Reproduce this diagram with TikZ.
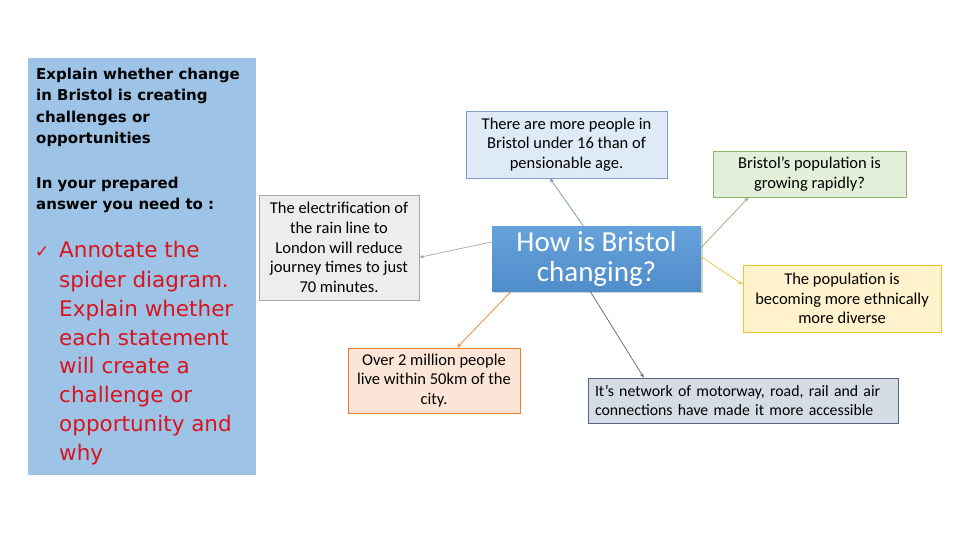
\documentclass[tikz,border=0pt]{standalone}
\usepackage{fontspec}
\setmainfont{Carlito}
\newfontfamily\comic{DejaVu Sans}
\usetikzlibrary{arrows.meta,shadows}
\definecolor{panel}{HTML}{9DC3E6}
\definecolor{redtxt}{HTML}{D8141E}
\definecolor{bluefill}{HTML}{DEEBF7}
\definecolor{blueline}{HTML}{7F9FC7}
\definecolor{greenfill}{HTML}{E2F0D9}
\definecolor{greenline}{HTML}{8CB26E}
\definecolor{grayfill}{HTML}{EDEDED}
\definecolor{grayline}{HTML}{A6A6A6}
\definecolor{yelfill}{HTML}{FFF2CC}
\definecolor{yelline}{HTML}{F0C630}
\definecolor{orfill}{HTML}{FBE5D6}
\definecolor{orline}{HTML}{ED7D31}
\definecolor{slfill}{HTML}{D6DCE5}
\definecolor{slline}{HTML}{56667C}
\definecolor{ctop}{HTML}{66A2DA}
\definecolor{cbot}{HTML}{4F8DCB}
\begin{document}
\begin{tikzpicture}[x=1pt,y=-1pt,
  box/.style={draw, line width=0.8pt, inner sep=0pt, align=center,
    font=\fontsize{16.5}{19.7}\selectfont},
  blk/.style={anchor=base west, inner sep=0pt, font=\comic\bfseries\fontsize{15}{18}\selectfont},
  red/.style={anchor=base west, inner sep=0pt, text=redtxt, font=\comic\fontsize{21.5}{24}\selectfont},
  conn/.style={line width=0.7pt, -{Stealth[length=4.5pt,width=3.5pt]}}]
\useasboundingbox (0,0) rectangle (960,540);
\fill[white] (0,0) rectangle (960,540);
% left panel
\fill[panel] (28,58) rectangle (256,475);
\foreach \t/\y [count=\i] in {Explain whether change/80, in Bristol is creating/101, challenges or/123, opportunities/144, In your prepared/188, answer you need to :/209}
  \node[blk] (b\i) at (36,\y) {\t};
\node[anchor=base west, inner sep=0pt, text=redtxt, font=\comic\fontsize{17}{18}\selectfont] (chk) at (35,257) {✓};
\foreach \t/\y [count=\i] in {Annotate the/257, spider diagram./287, Explain whether/316, each statement/345, will create a/373, challenge or/402, opportunity and/431, why/460}
  \node[red] (r\i) at (59,\y) {\t};
% boxes
\node[box, fill=bluefill, draw=blueline, minimum width=201, minimum height=67] (top) at (566.5,144.5)
  {There are more people in\\Bristol under 16 than of\\pensionable age.};
\node[box, fill=greenfill, draw=greenline, minimum width=193, minimum height=46] (grn) at (809.5,174)
  {Bristol’s population is\\growing rapidly?};
\node[box, fill=grayfill, draw=grayline, minimum width=160, minimum height=105] (gry) at (339,247.5)
  {The electrification of\\the rain line to\\London will reduce\\journey times to just\\70 minutes.};
\node[box, fill=yelfill, draw=yelline, minimum width=198, minimum height=67] (yel) at (842,298.5)
  {The population is\\becoming more ethnically\\more diverse};
\node[box, fill=orfill, draw=orline, minimum width=172, minimum height=65] (org) at (434,380.5)
  {Over 2 million people\\live within 50km of the\\city.};
\node[box, fill=slfill, draw=slline, text width=296, inner xsep=7pt, minimum height=45, align=left,
  font=\fontsize{15.8}{19.5}\selectfont] (slt) at (743,400.5)
  {It’s network of motorway, road, rail and air\\connections have made it more accessible};
\node[draw=none, top color=ctop, bottom color=cbot, text=white, align=center, inner sep=0pt,
  minimum width=209, minimum height=65, drop shadow={shadow xshift=1.5pt, shadow yshift=-1.5pt, opacity=0.35},
  font=\fontsize{29}{30}\selectfont] (c) at (596.5,258.5) {How is Bristol\\changing?};
% connectors
\draw[conn, draw=blueline!90!black] (c.112) -- (top.-116);
\draw[conn, draw=grayline] (c.171) -- (gry.-7.5);
\draw[conn, draw=greenline] (c.6) -- (grn.-159);
\draw[conn, draw=yelline] (c.1) -- (yel.172);
\draw[conn, draw=orline] (c.-159) -- (org.55);
\draw[conn, draw=slline] (c.-101) -- (slt.167.7);
\end{tikzpicture}
\end{document}
